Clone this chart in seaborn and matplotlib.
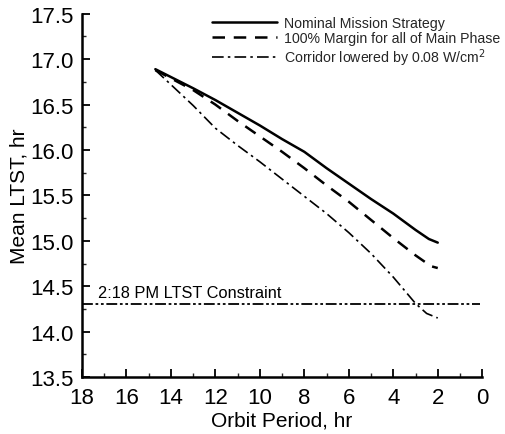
import matplotlib
matplotlib.use("Agg")
import matplotlib.pyplot as plt
import seaborn as sns
import pandas as pd
from matplotlib.ticker import MultipleLocator

# Data
nominal_period = [14.7, 13, 12, 11, 10, 9, 8, 7, 6, 5, 4, 3, 2.4, 2]
nominal_ltst = [16.89, 16.68, 16.55, 16.41, 16.27, 16.12, 15.98, 15.80, 15.63, 15.46, 15.30, 15.12, 15.02, 14.98]

margin_period = [14.7, 13, 12, 11, 10, 9, 8, 7, 6, 5, 4, 3, 2.3, 2]
margin_ltst = [16.88, 16.66, 16.50, 16.32, 16.15, 15.98, 15.80, 15.61, 15.43, 15.23, 15.03, 14.84, 14.72, 14.70]

corridor_period = [14.7, 14, 13, 12, 11, 10, 9, 8, 7, 6, 5, 4, 3, 2.5, 2]
corridor_ltst = [16.88, 16.72, 16.49, 16.24, 16.05, 15.87, 15.68, 15.49, 15.30, 15.09, 14.86, 14.60, 14.31, 14.20, 14.15]

constraint_ltst = 14.3
constraint_label = "2:18 PM LTST Constraint"
series_names = ["Nominal Mission Strategy", "100% Margin for all of Main Phase",
                "Corridor lowered by 0.08 W/cm$^2$"]

sns.set_theme(style="ticks")
plt.rcParams['font.family'] = ['Liberation Sans', 'DejaVu Sans']

fig = plt.figure(figsize=(5.06, 4.35), dpi=100)
ax = fig.add_axes([0.162, 0.131, 0.791, 0.835])

sns.lineplot(x=nominal_period, y=nominal_ltst, ax=ax, color="black", lw=1.8,
             linestyle="-", label=series_names[0], sort=False)
sns.lineplot(x=margin_period, y=margin_ltst, ax=ax, color="black", lw=1.8,
             linestyle=(0, (5, 3.5)), label=series_names[1], sort=False)
sns.lineplot(x=corridor_period, y=corridor_ltst, ax=ax, color="black", lw=1.2,
             linestyle=(0, (7, 2.5, 1.5, 2.5)), label=series_names[2], sort=False)

ax.axhline(constraint_ltst, xmin=0, xmax=0.995, color="black", lw=1.3,
           linestyle=(0, (6, 1.5, 1.5, 1.5, 1.5, 1.5)))
ax.text(17.3, constraint_ltst + 0.05, constraint_label, fontsize=11.8,
        ha="left", va="bottom", color="black")

ax.set_xlim(18, 0)
ax.set_ylim(13.5, 17.5)
ax.xaxis.set_major_locator(MultipleLocator(2))
ax.xaxis.set_minor_locator(MultipleLocator(1))
ax.yaxis.set_major_locator(MultipleLocator(0.5))
ax.yaxis.set_minor_locator(MultipleLocator(0.25))
ax.yaxis.set_major_formatter(matplotlib.ticker.FormatStrFormatter('%.1f'))
ax.tick_params(which="major", direction="in", length=6, width=1.3, labelsize=16, colors="black")
ax.tick_params(axis="x", which="major", pad=7)
ax.tick_params(axis="y", which="major", pad=6)
ax.tick_params(which="minor", direction="in", length=3, width=1.0)
for s in ["top", "right"]:
    ax.spines[s].set_visible(False)
for s in ["left", "bottom"]:
    ax.spines[s].set_linewidth(1.8)
    ax.spines[s].set_color("black")

ax.set_xlabel("Orbit Period, hr", fontsize=15, labelpad=2, color="black")
ax.set_ylabel("Mean LTST, hr", fontsize=15, labelpad=1, color="black")

leg = ax.legend(loc="upper left", bbox_to_anchor=(0.31, 1.01), frameon=False,
                fontsize=10.2, handlelength=4.6, handletextpad=0.5, labelspacing=0.1,
                borderaxespad=0)

fig.savefig("out.png", dpi=100)
